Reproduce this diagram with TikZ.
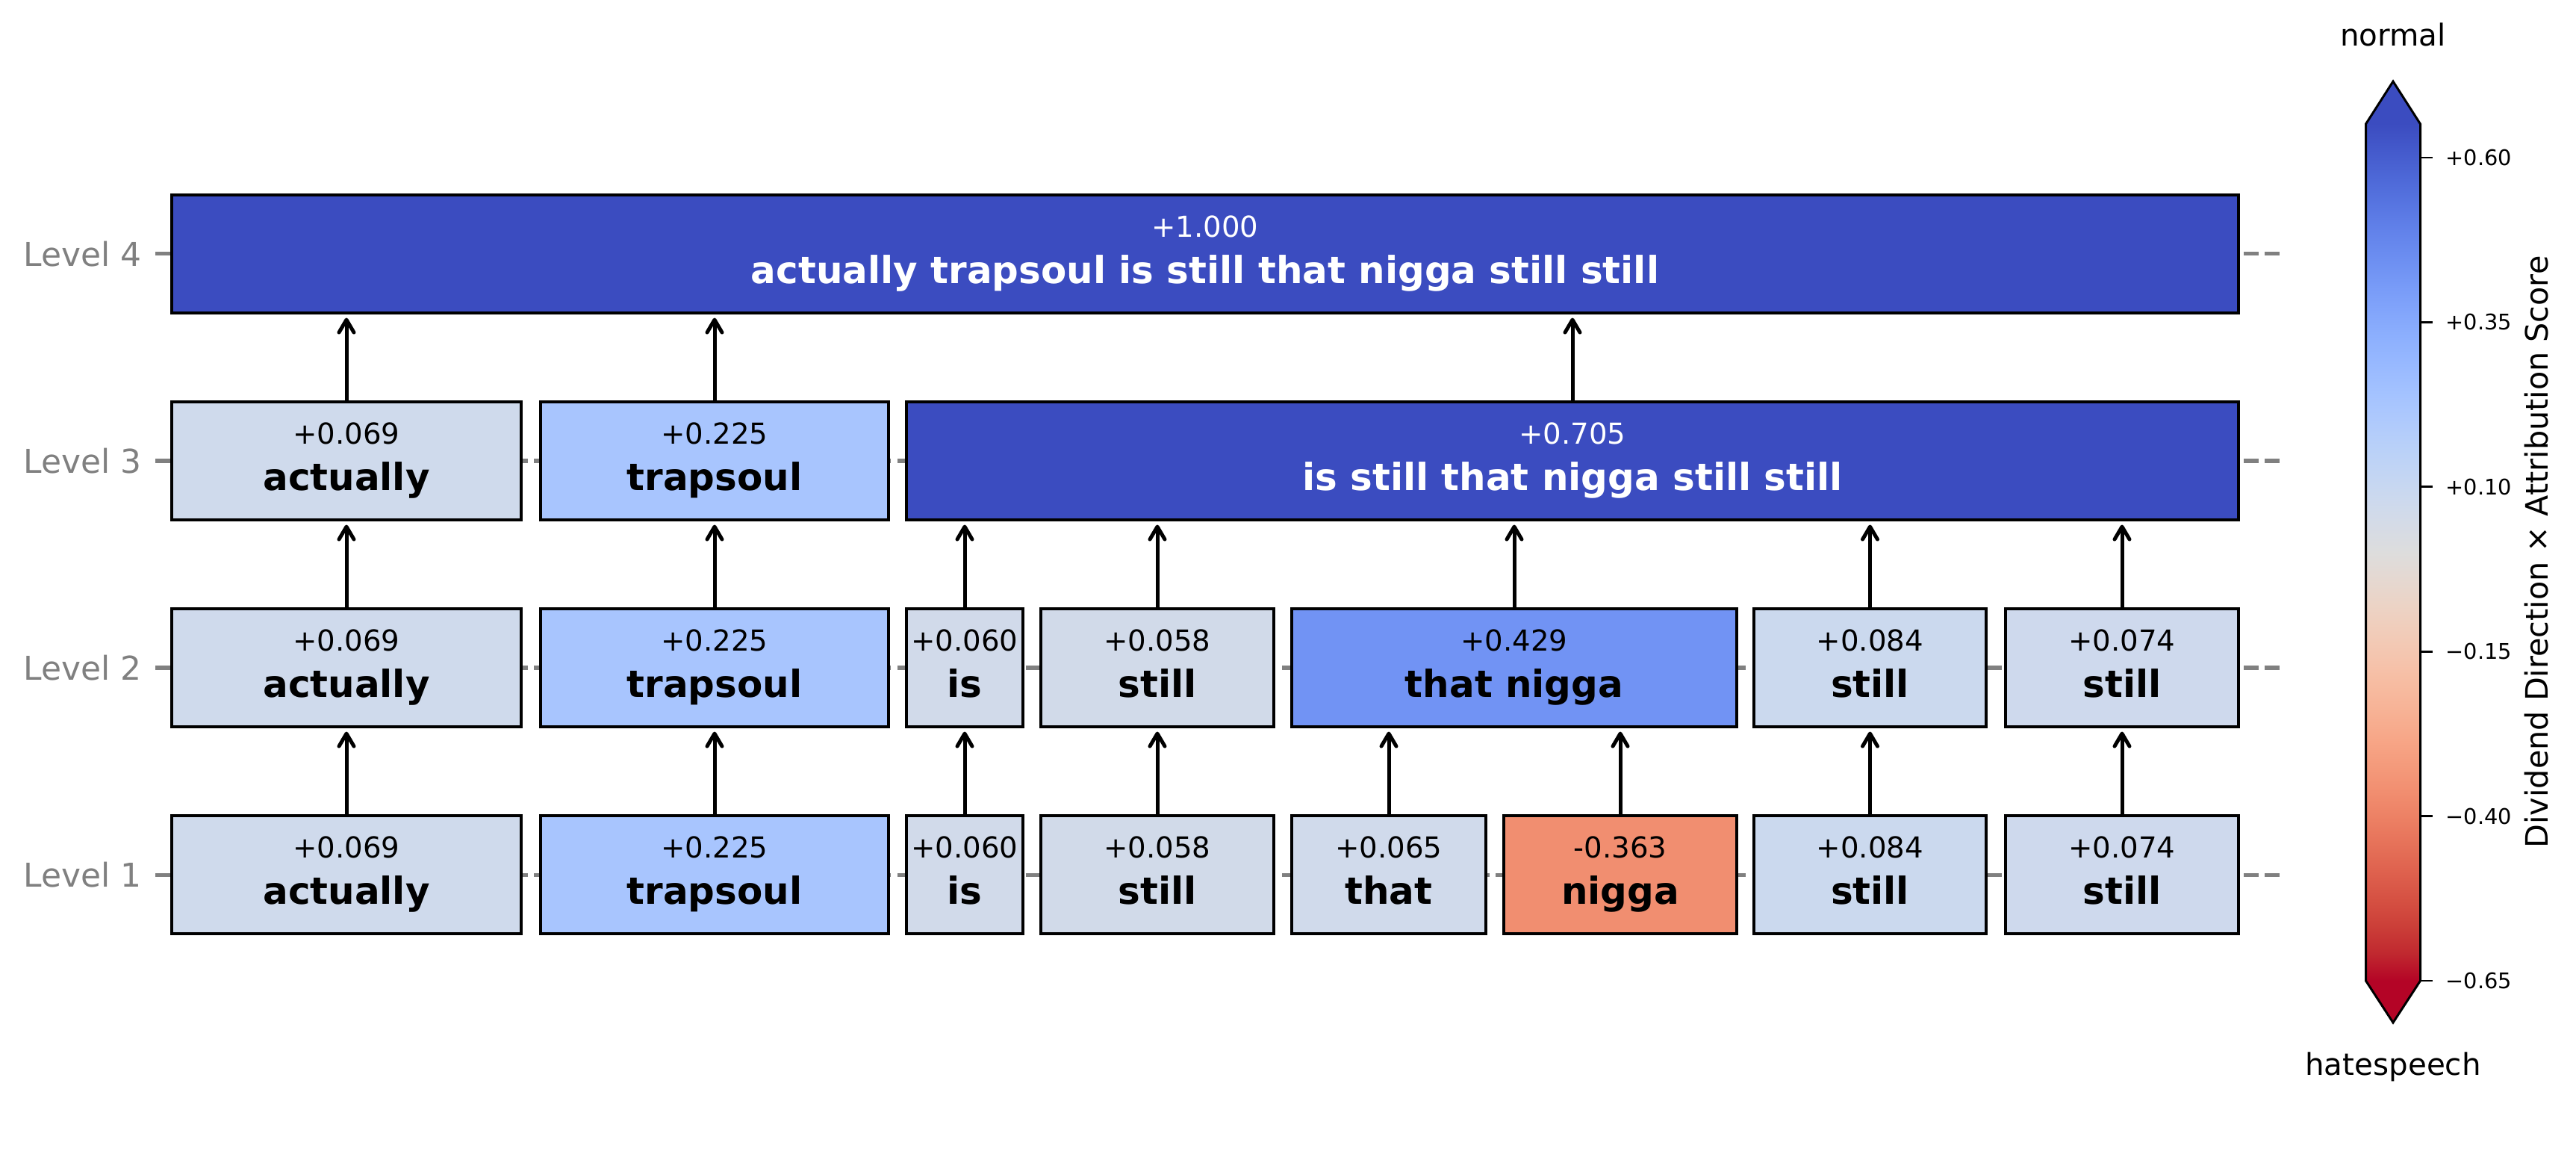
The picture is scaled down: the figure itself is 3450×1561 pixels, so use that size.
\documentclass[tikz,border=0pt]{standalone}
\usepackage{fontspec}
\setmainfont{DejaVu Sans}
\usetikzlibrary{arrows.meta,calc}

% coolwarm colour map, 33 samples from the blue end (0) to the red end (32)
\definecolor{cw0}{RGB}{59,76,192}
\definecolor{cw1}{RGB}{68,90,204}
\definecolor{cw2}{RGB}{77,104,215}
\definecolor{cw3}{RGB}{87,117,225}
\definecolor{cw4}{RGB}{98,130,234}
\definecolor{cw5}{RGB}{108,142,241}
\definecolor{cw6}{RGB}{119,154,247}
\definecolor{cw7}{RGB}{130,165,251}
\definecolor{cw8}{RGB}{141,176,254}
\definecolor{cw9}{RGB}{152,185,255}
\definecolor{cw10}{RGB}{163,194,255}
\definecolor{cw11}{RGB}{174,201,253}
\definecolor{cw12}{RGB}{184,208,249}
\definecolor{cw13}{RGB}{194,213,244}
\definecolor{cw14}{RGB}{204,217,238}
\definecolor{cw15}{RGB}{213,219,230}
\definecolor{cw16}{RGB}{221,221,221}
\definecolor{cw17}{RGB}{229,216,209}
\definecolor{cw18}{RGB}{236,211,197}
\definecolor{cw19}{RGB}{241,204,185}
\definecolor{cw20}{RGB}{245,196,173}
\definecolor{cw21}{RGB}{247,187,160}
\definecolor{cw22}{RGB}{247,177,148}
\definecolor{cw23}{RGB}{247,166,135}
\definecolor{cw24}{RGB}{244,154,123}
\definecolor{cw25}{RGB}{241,141,111}
\definecolor{cw26}{RGB}{236,127,99}
\definecolor{cw27}{RGB}{229,112,88}
\definecolor{cw28}{RGB}{222,96,77}
\definecolor{cw29}{RGB}{213,80,66}
\definecolor{cw30}{RGB}{203,62,56}
\definecolor{cw31}{RGB}{192,40,47}
\definecolor{cw32}{RGB}{180,4,38}

% fills of the token boxes, by score
\definecolor{cA}{RGB}{207,218,236}   % +0.069
\definecolor{cB}{RGB}{168,197,254}   % +0.225
\definecolor{cC}{RGB}{209,218,234}   % +0.060
\definecolor{cD}{RGB}{209,218,233}   % +0.058
\definecolor{cE}{RGB}{208,218,235}   % +0.065
\definecolor{cF}{RGB}{241,142,112}   % -0.363
\definecolor{cG}{RGB}{203,217,238}   % +0.084
\definecolor{cH}{RGB}{206,217,237}   % +0.074
\definecolor{cI}{RGB}{113,147,244}   % +0.429
\definecolor{cTop}{RGB}{59,76,192}   % above the range

\pgfdeclareverticalshading{coolwarmbar}{100bp}{%
  color(0bp)=(cw32); color(25bp)=(cw32); color(26.5625bp)=(cw31);
  color(28.125bp)=(cw30); color(29.6875bp)=(cw29); color(31.25bp)=(cw28);
  color(32.8125bp)=(cw27); color(34.375bp)=(cw26); color(35.9375bp)=(cw25);
  color(37.5bp)=(cw24); color(39.0625bp)=(cw23); color(40.625bp)=(cw22);
  color(42.1875bp)=(cw21); color(43.75bp)=(cw20); color(45.3125bp)=(cw19);
  color(46.875bp)=(cw18); color(48.4375bp)=(cw17); color(50bp)=(cw16);
  color(51.5625bp)=(cw15); color(53.125bp)=(cw14); color(54.6875bp)=(cw13);
  color(56.25bp)=(cw12); color(57.8125bp)=(cw11); color(59.375bp)=(cw10);
  color(60.9375bp)=(cw9); color(62.5bp)=(cw8); color(64.0625bp)=(cw7);
  color(65.625bp)=(cw6); color(67.1875bp)=(cw5); color(68.75bp)=(cw4);
  color(70.3125bp)=(cw3); color(71.875bp)=(cw2); color(73.4375bp)=(cw1);
  color(75bp)=(cw0); color(100bp)=(cw0)}

% token box: name, left x, right x, centre y, fill, score, word, text colour
\newcommand\tokbox[8]{%
  \node[tokbox, fill=#5, minimum width={(#3-#2-4)*0.01cm}] (#1) at ({(#2+#3)/2},#4) {};
  \node[valtxt, text=#8] (#1v) at ($(#1.center)+(0,-22.5)$) {#6};
  \node[wordtxt, text=#8] (#1w) at ($(#1.center)+(0,39.5)$) {#7};
}

\begin{document}
\begin{tikzpicture}[x=0.01cm,y=-0.01cm,
  tokbox/.style={draw=black, line width=1.15pt, rectangle, inner sep=0pt, minimum height=1.57cm},
  valtxt/.style={anchor=base, inner sep=0pt, font=\fontsize{11}{13}\selectfont},
  wordtxt/.style={anchor=base, inner sep=0pt, font=\fontsize{14.2}{17}\selectfont\bfseries},
  arr/.style={-{Straight Barb[length=0.17cm,width=0.2cm,round]}, line width=1.42pt, shorten >=0.05cm},
  levline/.style={draw=gray, line width=0.05cm, dash pattern=on 0.2cm off 0.086cm},
  levtick/.style={draw=gray, line width=0.05cm},
  levlab/.style={anchor=east, inner sep=0pt, text=gray, font=\fontsize{12.5}{15}\selectfont},
  cbtick/.style={draw=black, line width=0.85pt},
  cblab/.style={anchor=west, inner sep=0pt, font=\fontsize{8.2}{10}\selectfont},
  cbend/.style={anchor=base, inner sep=0pt, font=\fontsize{11.5}{14}\selectfont}]
\useasboundingbox (0,0) rectangle (3450,1561);

% level guide lines, ticks and labels
\foreach \yy/\lev in {340/4,617/3,894/2,1171/1}{
  \draw[levline] (229,\yy) -- (3057,\yy);
  \draw[levtick] (208,\yy) -- (229,\yy);
  \node[levlab] (lev\lev) at (190,\yy) {Level \lev};
}

% level 1
\tokbox{a1}{228}{700}{1171}{cA}{+0.069}{actually}{black}
\tokbox{t1}{722}{1192}{1171}{cB}{+0.225}{trapsoul}{black}
\tokbox{i1}{1212}{1372}{1171}{cC}{+0.060}{is}{black}
\tokbox{s1}{1392}{1708}{1171}{cD}{+0.058}{still}{black}
\tokbox{h1}{1728}{1992}{1171}{cE}{+0.065}{that}{black}
\tokbox{n1}{2012}{2328}{1171}{cF}{-0.363}{nigga}{black}
\tokbox{u1}{2347}{2662}{1171}{cG}{+0.084}{still}{black}
\tokbox{v1}{2684}{3000}{1171}{cH}{+0.074}{still}{black}

% level 2
\tokbox{a2}{228}{700}{894}{cA}{+0.069}{actually}{black}
\tokbox{t2}{722}{1192}{894}{cB}{+0.225}{trapsoul}{black}
\tokbox{i2}{1212}{1372}{894}{cC}{+0.060}{is}{black}
\tokbox{s2}{1392}{1708}{894}{cD}{+0.058}{still}{black}
\tokbox{h2}{1728}{2328}{894}{cI}{+0.429}{that nigga}{black}
\tokbox{u2}{2347}{2662}{894}{cG}{+0.084}{still}{black}
\tokbox{v2}{2684}{3000}{894}{cH}{+0.074}{still}{black}

% level 3
\tokbox{a3}{228}{700}{617}{cA}{+0.069}{actually}{black}
\tokbox{t3}{722}{1192}{617}{cB}{+0.225}{trapsoul}{black}
\tokbox{r3}{1212}{3000}{617}{cTop}{+0.705}{is still that nigga still still}{white}

% level 4
\tokbox{r4}{228}{3000}{340}{cTop}{+1.000}{actually trapsoul is still that nigga still still}{white}

% merges
\foreach \c/\p in {a1/a2,t1/t2,i1/i2,s1/s2,h1/h2,n1/h2,u1/u2,v1/v2,
                   a2/a3,t2/t3,i2/r3,s2/r3,h2/r3,u2/r3,v2/r3,
                   a3/r4,t3/r4,r3/r4}{
  \draw[arr] (\c.north) -- (\c.north |- \p.south);
}

% colour bar
\shade[shading=coolwarmbar] (3168,166) rectangle (3242,1313);
\fill[cw0] (3168,166) -- (3205,108) -- (3242,166) -- cycle;
\fill[cw32] (3168,1313) -- (3205,1370) -- (3242,1313) -- cycle;
\draw[line width=0.85pt, line join=miter] (3205,109) -- (3241.5,166) -- (3241.5,1313)
  -- (3205,1369) -- (3168.5,1313) -- (3168.5,166) -- cycle;
\foreach \ty/\tl [count=\k] in {211/+0.60,431.4/+0.35,651.8/+0.10,
                               872.2/−0.15,1092.6/−0.40,1313/−0.65}{
  \draw[cbtick] (3242,\ty) -- (3258,\ty);
  \node[cblab] (cbt\k) at (3275,\ty) {\tl};
}
\node[cbend] (cbtop) at (3205,62) {normal};
\node[cbend] (cbbot) at (3205,1439) {hatespeech};
\node[rotate=90, anchor=base, inner sep=0pt, font=\fontsize{11.75}{14}\selectfont]
  (cbaxis) at (3412,739) {Dividend Direction × Attribution Score};
\end{tikzpicture}
\end{document}
